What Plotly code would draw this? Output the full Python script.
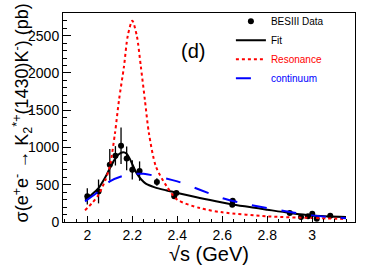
import plotly.graph_objects as go

# BESIII data points
data_x = [2.0, 2.05, 2.1, 2.125, 2.15, 2.175, 2.2, 2.2324, 2.3094, 2.3864, 2.396,
          2.6444, 2.6464, 2.9, 2.95, 2.981, 3.0, 3.02, 3.08]
data_y = [344, 410, 768, 888, 1022, 853, 700, 683, 536, 344, 388,
          232, 286, 120, 67, 76, 112, 45, 85]
data_err = [110, 160, 210, 130, 245, 160, 130, 130, 50, 25, 25,
            25, 20, 15, 15, 15, 15, 12, 15]

# Fit curve (black)
fit_x = [1.99, 2.02, 2.05, 2.08, 2.1, 2.12, 2.14, 2.16, 2.175, 2.19, 2.2, 2.21,
         2.22, 2.24, 2.26, 2.3, 2.35, 2.4, 2.5, 2.6, 2.7, 2.8, 2.9, 3.0, 3.15]
fit_y = [300, 370, 455, 600, 720, 830, 910, 935, 915, 840, 775, 710,
         650, 570, 515, 465, 425, 390, 322, 263, 210, 165, 122, 88, 67]

# Resonance curve (red dotted)
res_x = [1.99, 2.02, 2.05, 2.08, 2.1, 2.123, 2.141, 2.163, 2.18, 2.2, 2.22,
         2.238, 2.256, 2.274, 2.305, 2.353, 2.4, 2.5, 2.6, 2.8, 3.0, 3.15]
res_y = [156, 250, 366, 560, 745, 1190, 1638, 2085, 2500, 2700, 2500,
         2085, 1638, 1190, 745, 478, 300, 187, 130, 76, 54, 40]

# Continuum curve (blue dashed)
con_x = [1.99, 2.05, 2.1, 2.15, 2.2, 2.25, 2.3, 2.4, 2.5, 2.6, 2.7, 2.8, 2.9, 3.0, 3.15]
con_y = [277, 410, 545, 611, 643, 647, 620, 545, 433, 321, 245, 187, 134, 89, 50]

x_ticks = [2.0, 2.2, 2.4, 2.6, 2.8, 3.0]
x_tick_labels = ["2", "2.2", "2.4", "2.6", "2.8", "3"]
y_ticks = [0, 500, 1000, 1500, 2000, 2500]
y_tick_labels = ["0", "500", "1000", "1500", "2000", "2500"]

font = "Liberation Sans, Arial, sans-serif"

fig = go.Figure()
fig.add_trace(go.Scatter(
    x=data_x, y=data_y, mode="markers", name="BESIII Data",
    marker=dict(color="black", size=6, symbol="circle"),
    error_y=dict(type="data", array=data_err, color="black", thickness=1.3, width=0),
))
fig.add_trace(go.Scatter(
    x=fit_x, y=fit_y, mode="lines", name="Fit",
    line=dict(color="black", width=2, shape="spline", smoothing=0.8),
))
fig.add_trace(go.Scatter(
    x=res_x, y=res_y, mode="lines", name="<span style='color:red'>Resonance</span>",
    line=dict(color="red", width=2, dash="dot", shape="spline", smoothing=0.8),
))
fig.add_trace(go.Scatter(
    x=con_x, y=con_y, mode="lines", name="<span style='color:blue'>continuum</span>",
    line=dict(color="blue", width=2, dash="longdash", shape="spline", smoothing=0.8),
))

fig.add_annotation(
    x=2.47, y=2300, xref="x", yref="y", text="(d)", showarrow=False,
    font=dict(family=font, size=20, color="black"),
)
# y-axis title (ROOT-style, aligned toward the top)
fig.add_annotation(
    x=-0.14, y=0.52, xref="paper", yref="paper", textangle=-90,
    xanchor="center", yanchor="middle", showarrow=False,
    text="σ(e<sup>+</sup>e<sup>-</sup> → K<sub>2</sub><sup>*+</sup>(1430)K<sup>-</sup>) (pb)",
    font=dict(family=font, size=18, color="black"),
)

fig.update_layout(
    width=374, height=268,
    margin=dict(l=63, r=19, t=13, b=46, autoexpand=False),
    paper_bgcolor="white", plot_bgcolor="white",
    font=dict(family=font, color="black"),
    showlegend=True,
    legend=dict(
        x=0.575, y=1.03, xanchor="left", yanchor="top",
        bgcolor="rgba(0,0,0,0)", borderwidth=0,
        font=dict(size=10, family=font),
        tracegroupgap=0, itemwidth=30,
    ),
    xaxis=dict(
        range=[1.892, 3.19], tickvals=x_ticks, ticktext=x_tick_labels,
        ticks="inside", ticklen=6, tickcolor="black", showgrid=False, zeroline=False,
        showline=True, linecolor="black", linewidth=1, mirror=True, automargin=False,
        tickfont=dict(size=14, family=font),
        minor=dict(dtick=0.05, ticks="inside", ticklen=3, tickcolor="black", showgrid=False),
        title=dict(text="√s (GeV)", font=dict(size=20, family=font), standoff=2),
    ),
    yaxis=dict(
        range=[0, 2804], tickvals=y_ticks, ticktext=y_tick_labels,
        ticks="inside", ticklen=8, tickcolor="black", showgrid=False, zeroline=False,
        showline=True, linecolor="black", linewidth=1, mirror=True, automargin=False,
        tickfont=dict(size=14, family=font),
        minor=dict(dtick=100, ticks="inside", ticklen=4, tickcolor="black", showgrid=False),
    ),
)

fig.write_html("out.html", config={"displayModeBar": False},
               post_script="document.body.style.margin='0';document.body.style.overflow='hidden';")
